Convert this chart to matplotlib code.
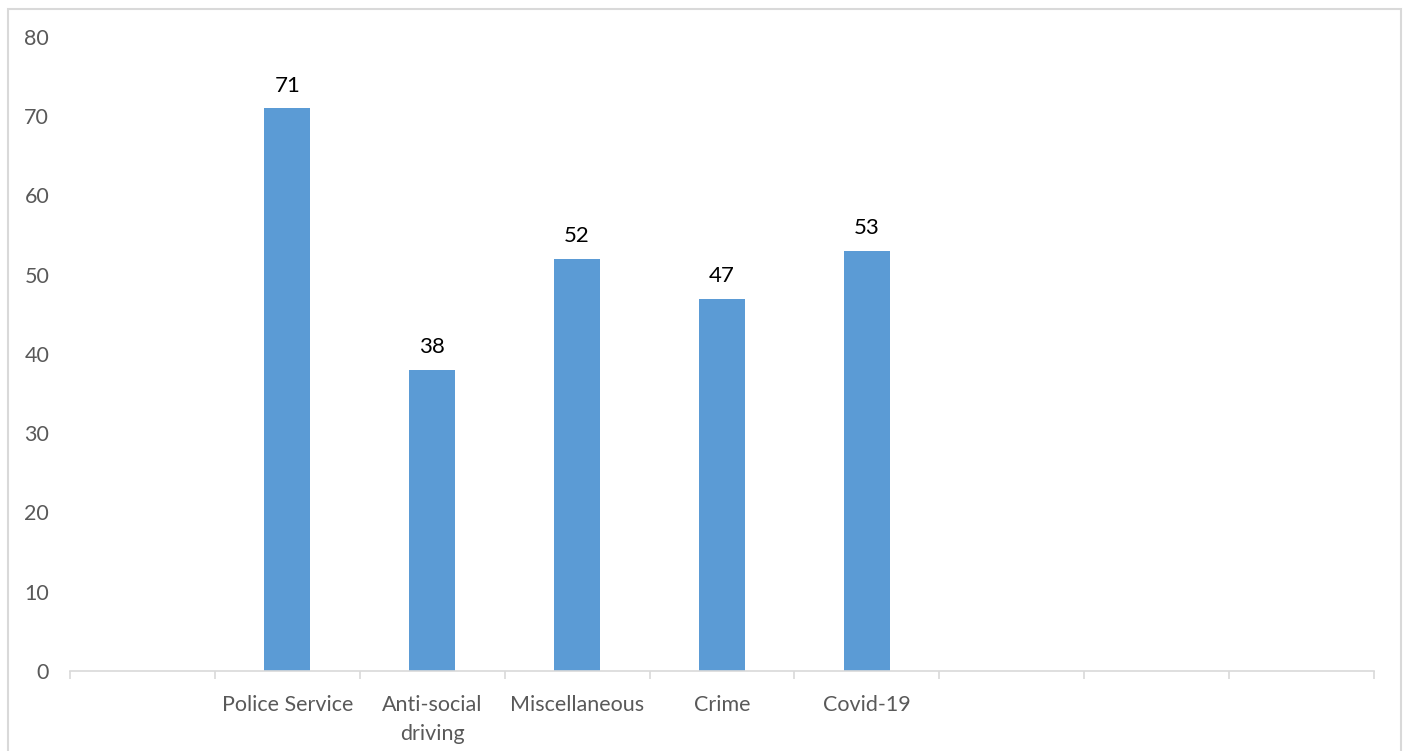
import matplotlib.pyplot as plt
from matplotlib.patches import Rectangle

categories = ['', 'Police Service', 'Anti-social\ndriving', 'Miscellaneous', 'Crime', 'Covid-19', '', '', '']
values = [None, 71, 38, 52, 47, 53, None, None, None]

plt.rcParams['font.family'] = ['Lato', 'DejaVu Sans']

fig = plt.figure(figsize=(14.07, 7.51), dpi=100)
ax = fig.add_axes([70 / 1407, 1 - 671 / 751, (1374 - 70) / 1407, (671 - 37) / 751])

xs = [i for i, v in enumerate(values) if v is not None]
vs = [v for v in values if v is not None]
bars = ax.bar(xs, vs, width=0.317, color='#5b9bd5')
for x, v in zip(xs, vs):
    ax.annotate(str(v), (x, v), xytext=(0, 9), textcoords='offset points',
                ha='center', va='bottom', fontsize=16, color='black')

ax.set_xlim(-0.5, len(categories) - 0.5)
ax.set_ylim(0, 80)
ax.set_yticks(range(0, 81, 10))
ax.tick_params(axis='y', length=0, pad=15, labelsize=15.5, labelcolor='#595959')

ax.set_xticks([i - 0.5 for i in range(len(categories) + 1)])
ax.set_xticklabels([])
ax.tick_params(axis='x', which='major', length=6, width=1.2, color='#d9d9d9')
ax.set_xticks(range(len(categories)), minor=True)
ax.set_xticklabels(categories, minor=True, fontsize=15.5, color='#595959', linespacing=1.55)
ax.tick_params(axis='x', which='minor', length=0, pad=17.5)

for s in ['top', 'right', 'left']:
    ax.spines[s].set_visible(False)
ax.spines['bottom'].set_color('#d9d9d9')
ax.spines['bottom'].set_linewidth(1.2)

fig.patches.append(Rectangle((8 / 1407, -0.05), (1401 - 8) / 1407, 1.05 - 9 / 751,
                             transform=fig.transFigure, fill=False,
                             edgecolor='#d9d9d9', linewidth=1.5))

fig.savefig('out.png', dpi=100)
